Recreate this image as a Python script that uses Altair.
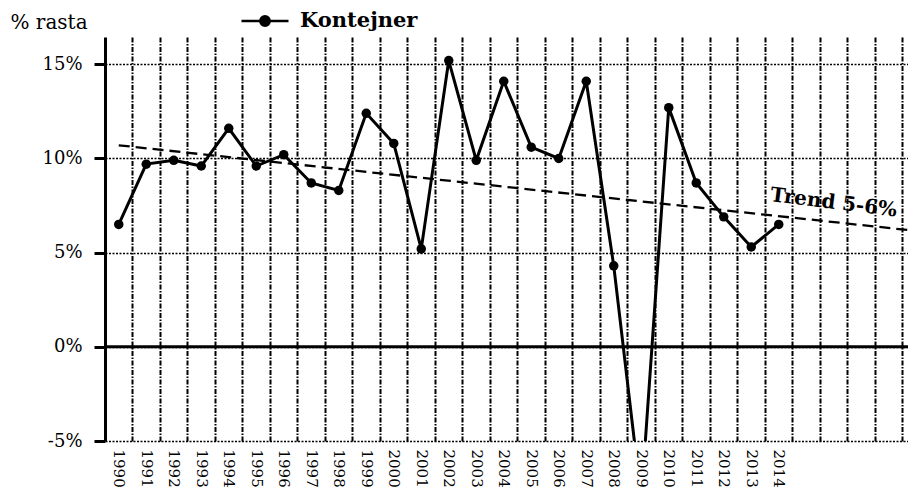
import altair as alt
import pandas as pd

# ---- data ----
years = list(range(1990, 2015))
growth = [6.5, 9.7, 9.9, 9.6, 11.6, 9.6, 10.2, 8.7, 8.3, 12.4,
          10.8, 5.2, 15.2, 9.9, 14.1, 10.6, 10.0, 14.1, 4.3, -8.1,
          12.7, 8.7, 6.9, 5.3, 6.5]
series_name = ["Kontejner"] * len(years)

trend_years = [1990, 2018.7]
trend_values = [10.7, 6.2]

label_text = ["Trend 5-6%"]
label_years = [2016.0]
label_values = [7.65]

y_ticks = [-5, 0, 5, 10, 15]
zero_line = [0]
x_grid = [y + 0.5 for y in range(1990, 2019)]

df = pd.DataFrame({"year": years, "growth": growth, "series": series_name})
trend_df = pd.DataFrame({"ty": trend_years, "tv": trend_values})
label_df = pd.DataFrame({"lx": label_years, "ly": label_values, "txt": label_text})
zero_df = pd.DataFrame({"z": zero_line})

FONT = "DejaVu Serif"

xscale = alt.Scale(domain=[1989.5, 2018.7], nice=False, zero=False)
yscale = alt.Scale(domain=[-5, 16.45], nice=False, zero=False)

y_axis = alt.Axis(
    values=y_ticks, labelExpr="datum.value + '%'",
    grid=True, gridColor="black", gridDash=[2, 1.5], gridWidth=1.3, gridOpacity=1,
    domain=True, domainColor="black", domainWidth=3,
    ticks=True, tickSize=11, tickWidth=3, tickColor="black",
    labelPadding=12, labelFont=FONT, labelFontSize=18, labelColor="black",
    title="% rasta", titleAngle=0, titleX=-95, titleY=-9, titleAlign="left",
    titleBaseline="alphabetic", titleFont=FONT, titleFontSize=20,
    titleFontWeight="normal", titleColor="black",
)

label_axis = alt.Axis(
    values=years, format="d", labelAngle=90, grid=False, ticks=False, domain=False,
    labelFont=FONT, labelFontSize=15, labelColor="black", labelPadding=8,
    labelOverlap=False, labelFlush=False, orient="bottom", title=None,
)

grid_axis = alt.Axis(
    values=x_grid, grid=True, gridColor="black", gridDash=[5, 1.5, 1.5, 1.5],
    gridWidth=2, gridOpacity=1, labels=False, ticks=False, domain=False,
    orient="top", title=None,
)

zero_rule = alt.Chart(zero_df).mark_rule(color="black", strokeWidth=3).encode(
    y=alt.Y("z:Q", scale=yscale, axis=y_axis)
)

trend = alt.Chart(trend_df).mark_line(
    color="black", strokeWidth=2.3, strokeDash=[11, 6]
).encode(
    x=alt.X("ty:Q", scale=xscale, axis=grid_axis),
    y=alt.Y("tv:Q", scale=yscale),
)

line = alt.Chart(df).mark_line(strokeWidth=3, clip=True).encode(
    x=alt.X("year:Q", scale=xscale, axis=label_axis),
    y=alt.Y("growth:Q", scale=yscale),
    color=alt.Color(
        "series:N",
        scale=alt.Scale(range=["black"]),
        legend=alt.Legend(
            title=None, orient="none", legendX=135, legendY=-41, padding=0,
            symbolType="M-1,0H1M-0.2,0A0.2,0.2,0,1,1,0.2,0A0.2,0.2,0,1,1,-0.2,0Z",
            symbolSize=2209, symbolStrokeWidth=2.5, symbolStrokeColor="black",
            symbolFillColor="black", labelFont=FONT, labelFontWeight="bold",
            labelFontSize=21, labelColor="black", labelOffset=10,
        ),
    ),
)

points = alt.Chart(df).mark_circle(size=90, color="black", opacity=1, clip=True).encode(
    x=alt.X("year:Q", scale=xscale, axis=None),
    y=alt.Y("growth:Q", scale=yscale),
)

label = alt.Chart(label_df).mark_text(
    font=FONT, fontWeight="bold", fontSize=20, angle=7, align="center",
    baseline="middle", color="black",
).encode(
    x=alt.X("lx:Q", scale=xscale, axis=None),
    y=alt.Y("ly:Q", scale=yscale),
    text="txt:N",
)

chart = alt.layer(zero_rule, trend, line, points, label).resolve_axis(
    x="independent"
).properties(
    width=803, height=404,
    autosize=alt.AutoSizeParams(type="none"),
    padding={"left": 97, "top": 29, "right": 0, "bottom": 47},
).configure_view(strokeWidth=0)

chart.save("out.html", embed_options={"renderer": "svg", "actions": False})
